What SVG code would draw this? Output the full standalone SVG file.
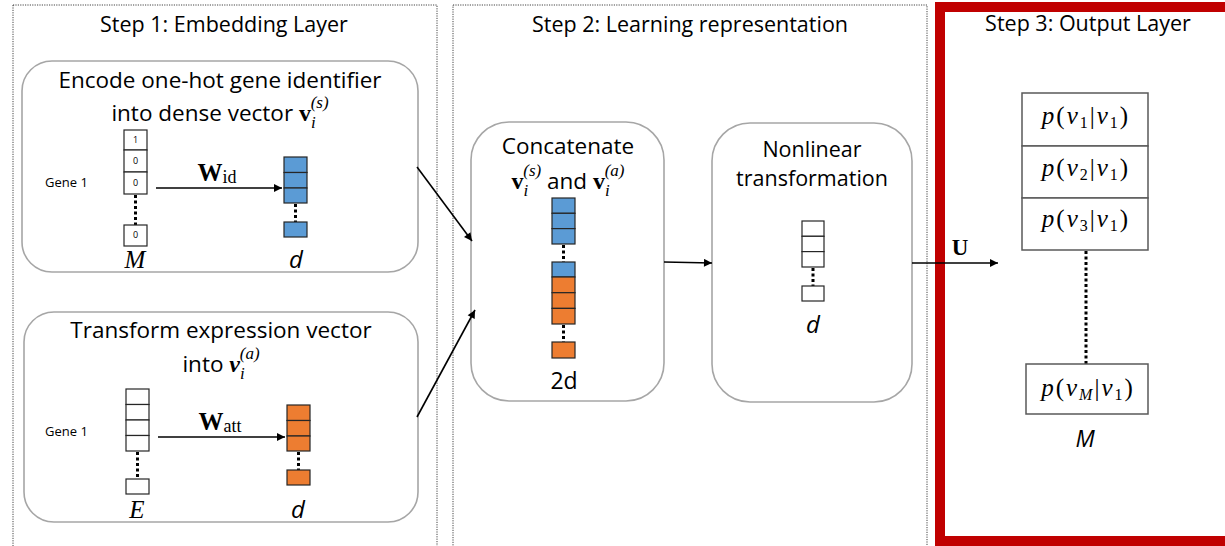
<svg xmlns="http://www.w3.org/2000/svg" width="1225" height="546" viewBox="0 0 1225 546">
  <defs>
    <marker id="arrow" viewBox="0 0 10 10" refX="10" refY="5" markerWidth="10" markerHeight="8" markerUnits="userSpaceOnUse" orient="auto">
      <path d="M0,0 L10,5 L0,10 z" fill="#000"/>
    </marker>
    <style>
      .panel { fill: none; stroke: #444; stroke-width: 1; stroke-dasharray: 1.2 1.2; }
      .box { fill: #fff; stroke: #a6a6a6; stroke-width: 1.6; }
      .cell { stroke: #262626; stroke-width: 1.2; }
      .white { fill: #fff; }
      .blue { fill: #5b9bd5; }
      .orange { fill: #ed7d31; }
      .dots { stroke: #000; stroke-width: 3; stroke-dasharray: 3 2.5; fill: none; }
      .conn { stroke: #000; stroke-width: 1.6; fill: none; marker-end: url(#arrow); }
      .sans { font-family: "Open Sans", "DejaVu Sans", sans-serif; fill: #000; }
      .title { font-size: 21.5px; text-anchor: middle; }
      .head { font-size: 22.5px; text-anchor: middle; }
      .head2 { font-size: 21.5px; text-anchor: middle; }
      .small { font-size: 13px; }
      .digit { font-size: 9px; text-anchor: middle; }
      .math { font-family: "Liberation Serif", "DejaVu Serif", serif; fill: #000; }
      .it { font-style: italic; }
      .bf { font-weight: bold; }
      .scr { font-size: 17px; font-style: italic; }
      .prob { font-size: 25px; letter-spacing: 2px; text-anchor: middle; }
      .outbox { fill: #fff; stroke: #595959; stroke-width: 1.5; }
    </style>
  </defs>

  <!-- step panels -->
  <g id="panel-step1">
    <rect class="panel" x="13" y="5" width="424" height="545"/>
    <text class="sans title" x="224" y="32">Step 1: Embedding Layer</text>
  </g>
  <g id="panel-step2">
    <rect class="panel" x="453" y="5" width="474" height="545"/>
    <text class="sans title" x="690" y="32">Step 2: Learning representation</text>
  </g>
  <g id="panel-step3">
    <rect x="940" y="7" width="300" height="534" fill="none" stroke="#c00000" stroke-width="10"/>
    <text class="sans title" x="1088" y="31">Step 3: Output Layer</text>
  </g>

  <!-- one-hot gene identifier embedding -->
  <g id="node-encode">
    <rect class="box" x="22" y="61" width="396" height="211" rx="30"/>
    <text class="sans head" x="220" y="88">Encode one-hot gene identifier</text>
    <text class="sans head" x="220" y="121">into dense vector <tspan class="math bf" font-size="24">v</tspan><tspan class="math scr" dy="7">i</tspan><tspan class="math scr" dx="-5" dy="-20">(s)</tspan></text>
    <text class="sans small" x="45" y="187">Gene 1</text>
    <rect class="cell white" x="124" y="130" width="23" height="20"/>
    <rect class="cell white" x="124" y="150" width="23" height="22"/>
    <rect class="cell white" x="124" y="172" width="23" height="22"/>
    <line class="dots" x1="135.5" y1="195" x2="135.5" y2="225"/>
    <rect class="cell white" x="124" y="225" width="23" height="21"/>
    <text class="sans digit" x="135.5" y="143">1</text>
    <text class="sans digit" x="135.5" y="164">0</text>
    <text class="sans digit" x="135.5" y="186">0</text>
    <text class="sans digit" x="135.5" y="238">0</text>
    <text class="math it" font-size="25" x="135" y="268" text-anchor="middle">M</text>
    <text class="math" x="217" y="181" text-anchor="middle"><tspan class="bf" font-size="25">W</tspan><tspan font-size="18" dy="2">id</tspan></text>
    <rect class="cell blue" x="284" y="157" width="23" height="15.5"/>
    <rect class="cell blue" x="284" y="172.5" width="23" height="15.5"/>
    <rect class="cell blue" x="284" y="188" width="23" height="15"/>
    <line class="dots" x1="295.5" y1="204" x2="295.5" y2="222"/>
    <rect class="cell blue" x="284" y="222" width="23" height="15"/>
    <text class="sans it" font-size="24" x="296" y="268" text-anchor="middle">d</text>
  </g>

  <!-- expression vector transformation -->
  <g id="node-transform">
    <rect class="box" x="24" y="312" width="394" height="210" rx="30"/>
    <text class="sans head" x="221" y="338">Transform expression vector</text>
    <text class="sans head" x="221" y="372">into <tspan class="math bf it" font-size="24">v</tspan><tspan class="math scr" dy="7">i</tspan><tspan class="math scr" dx="-5" dy="-20">(a)</tspan></text>
    <text class="sans small" x="45" y="436">Gene 1</text>
    <rect class="cell white" x="126" y="389" width="23" height="15.5"/>
    <rect class="cell white" x="126" y="404.5" width="23" height="15.5"/>
    <rect class="cell white" x="126" y="420" width="23" height="15.5"/>
    <rect class="cell white" x="126" y="435.5" width="23" height="15.5"/>
    <line class="dots" x1="137.5" y1="452" x2="137.5" y2="479"/>
    <rect class="cell white" x="126" y="479" width="23" height="15"/>
    <text class="math it" font-size="25" x="137" y="518" text-anchor="middle">E</text>
    <text class="math" x="220" y="430" text-anchor="middle"><tspan class="bf" font-size="25">W</tspan><tspan font-size="18" dy="2">att</tspan></text>
    <rect class="cell orange" x="287" y="405" width="23" height="15.5"/>
    <rect class="cell orange" x="287" y="420.5" width="23" height="15.5"/>
    <rect class="cell orange" x="287" y="436" width="23" height="15"/>
    <line class="dots" x1="298.5" y1="452" x2="298.5" y2="470"/>
    <rect class="cell orange" x="287" y="470" width="23" height="15"/>
    <text class="sans it" font-size="24" x="298" y="518" text-anchor="middle">d</text>
  </g>

  <!-- concatenation -->
  <g id="node-concat">
    <rect class="box" x="471" y="122" width="193" height="279" rx="38"/>
    <text class="sans head" x="568" y="154">Concatenate</text>
    <text class="sans head" x="568" y="189"><tspan class="math bf" font-size="24">v</tspan><tspan class="math scr" dy="7">i</tspan><tspan class="math scr" dx="-5" dy="-20">(s)</tspan><tspan dy="13"> and </tspan><tspan class="math bf" font-size="24">v</tspan><tspan class="math scr" dy="7">i</tspan><tspan class="math scr" dx="-5" dy="-20">(a)</tspan></text>
    <rect class="cell blue" x="552" y="198" width="23" height="15.3"/>
    <rect class="cell blue" x="552" y="213.3" width="23" height="15.3"/>
    <rect class="cell blue" x="552" y="228.6" width="23" height="15.4"/>
    <line class="dots" x1="563.5" y1="245" x2="563.5" y2="262"/>
    <rect class="cell blue" x="552" y="262" width="23" height="15"/>
    <rect class="cell orange" x="552" y="277" width="23" height="15.7"/>
    <rect class="cell orange" x="552" y="292.7" width="23" height="15.7"/>
    <rect class="cell orange" x="552" y="308.4" width="23" height="15.6"/>
    <line class="dots" x1="563.5" y1="325" x2="563.5" y2="342"/>
    <rect class="cell orange" x="552" y="342" width="23" height="16"/>
    <text class="sans" font-size="23" x="564" y="389" text-anchor="middle">2d</text>
  </g>

  <!-- nonlinear transformation -->
  <g id="node-nonlinear">
    <rect class="box" x="712" y="123" width="200" height="279" rx="38"/>
    <text class="sans head2" x="812" y="157">Nonlinear</text>
    <text class="sans head2" x="812" y="186">transformation</text>
    <rect class="cell white" x="802" y="221" width="22" height="15.3"/>
    <rect class="cell white" x="802" y="236.3" width="22" height="15.3"/>
    <rect class="cell white" x="802" y="251.6" width="22" height="15.4"/>
    <line class="dots" x1="813" y1="268" x2="813" y2="286"/>
    <rect class="cell white" x="802" y="286" width="22" height="15"/>
    <text class="sans it" font-size="24" x="813" y="333" text-anchor="middle">d</text>
  </g>

  <!-- output probabilities -->
  <g id="node-output">
    <rect class="outbox" x="1022" y="93" width="126" height="53"/>
    <rect class="outbox" x="1022" y="146" width="126" height="52"/>
    <rect class="outbox" x="1022" y="198" width="126" height="52"/>
    <line class="dots" x1="1086" y1="251" x2="1086" y2="364"/>
    <rect class="outbox" x="1026" y="364" width="122" height="50"/>
    <text class="math prob" x="1086" y="124"><tspan class="it">p</tspan>(<tspan class="it">v</tspan><tspan font-size="16" dy="4">1</tspan><tspan dy="-4">|</tspan><tspan class="it">v</tspan><tspan font-size="16" dy="4">1</tspan><tspan dy="-4">)</tspan></text>
    <text class="math prob" x="1086" y="176"><tspan class="it">p</tspan>(<tspan class="it">v</tspan><tspan font-size="16" dy="4">2</tspan><tspan dy="-4">|</tspan><tspan class="it">v</tspan><tspan font-size="16" dy="4">1</tspan><tspan dy="-4">)</tspan></text>
    <text class="math prob" x="1086" y="227"><tspan class="it">p</tspan>(<tspan class="it">v</tspan><tspan font-size="16" dy="4">3</tspan><tspan dy="-4">|</tspan><tspan class="it">v</tspan><tspan font-size="16" dy="4">1</tspan><tspan dy="-4">)</tspan></text>
    <text class="math prob" x="1088" y="396"><tspan class="it">p</tspan>(<tspan class="it">v</tspan><tspan class="it" font-size="16" dy="4">M</tspan><tspan dy="-4">|</tspan><tspan class="it">v</tspan><tspan font-size="16" dy="4">1</tspan><tspan dy="-4">)</tspan></text>
    <text class="sans it" font-size="23" x="1085" y="447" text-anchor="middle">M</text>
  </g>

  <!-- connectors -->
  <g id="connectors">
    <line class="conn" x1="156" y1="188" x2="282" y2="188"/>
    <line class="conn" x1="158" y1="437" x2="285" y2="437"/>
    <line class="conn" x1="417" y1="167" x2="472" y2="241"/>
    <line class="conn" x1="417" y1="417" x2="475" y2="310"/>
    <line class="conn" x1="664" y1="262" x2="712" y2="263"/>
    <line class="conn" x1="912" y1="263" x2="998" y2="263"/>
    <text class="math bf" font-size="23" x="960" y="255" text-anchor="middle">U</text>
  </g>
</svg>
